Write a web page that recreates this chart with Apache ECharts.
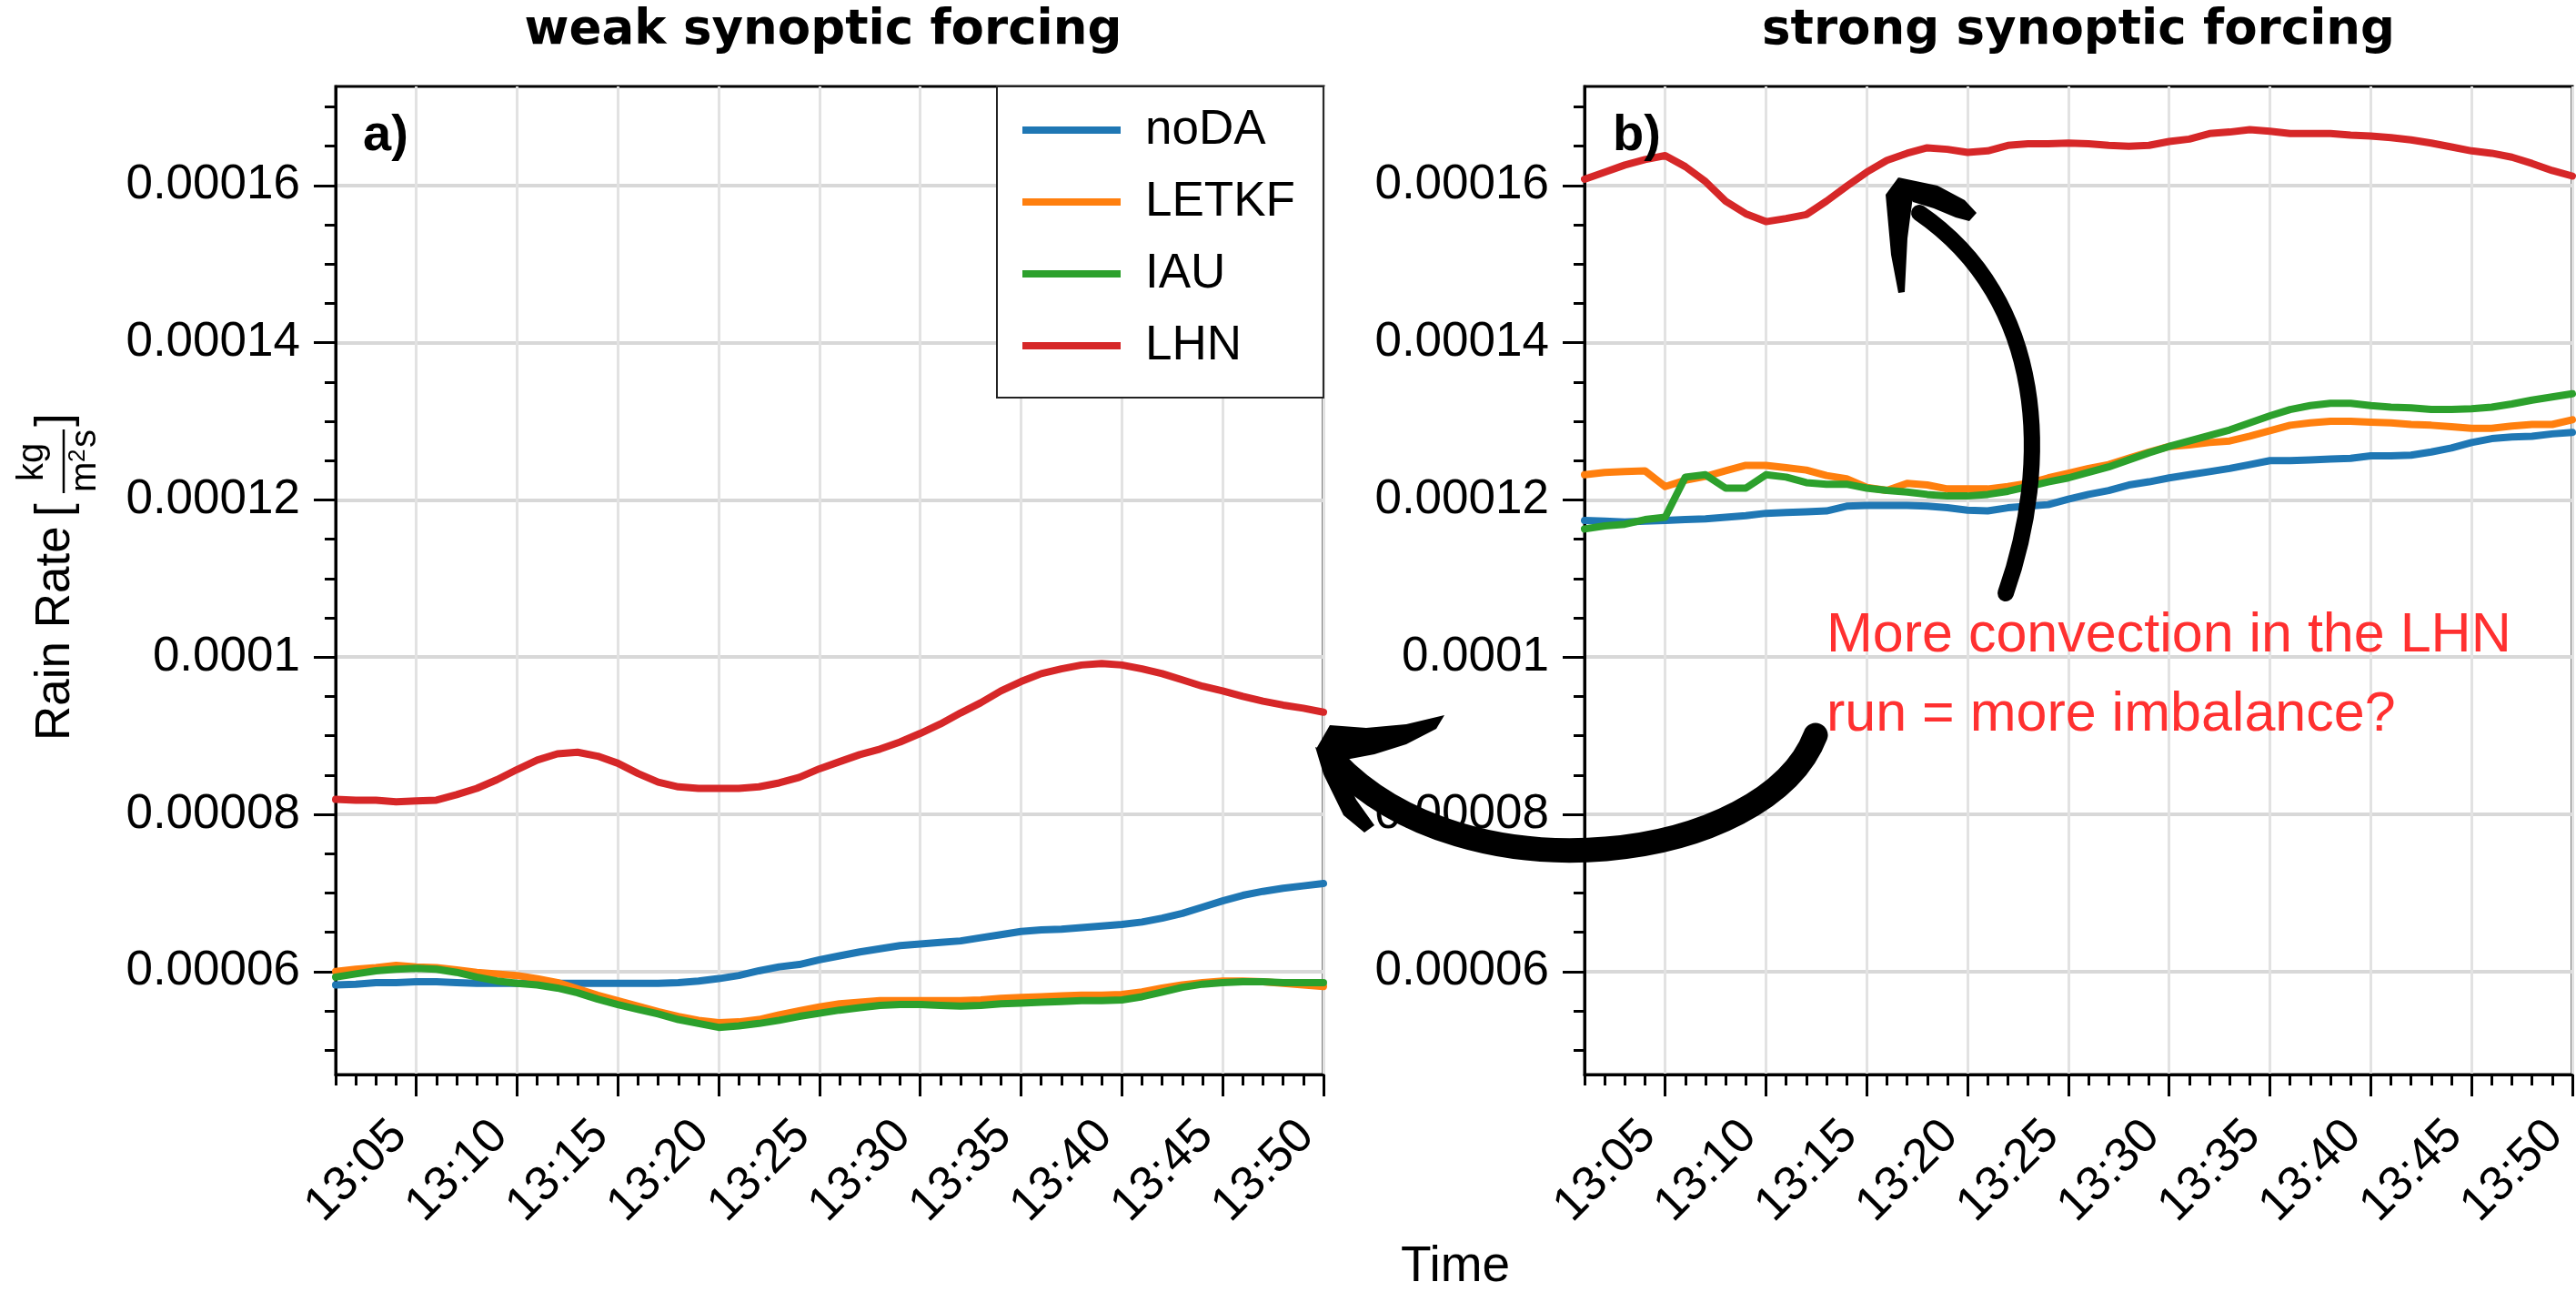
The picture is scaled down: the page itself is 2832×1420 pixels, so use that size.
<!DOCTYPE html>
<html>
<head>
<meta charset="utf-8">
<script src="https://cdn.jsdelivr.net/npm/echarts@6/dist/echarts.min.js"></script>
<style>
  html, body { margin: 0; padding: 0; background: #ffffff; }
  #chart { width: 2832px; height: 1420px; }
</style>
</head>
<body>
<div id="chart"></div>
<script>
// Time axis (one sample per minute)
const times = [
  '13:01','13:02','13:03','13:04','13:05','13:06','13:07','13:08','13:09','13:10',
  '13:11','13:12','13:13','13:14','13:15','13:16','13:17','13:18','13:19','13:20',
  '13:21','13:22','13:23','13:24','13:25','13:26','13:27','13:28','13:29','13:30',
  '13:31','13:32','13:33','13:34','13:35','13:36','13:37','13:38','13:39','13:40',
  '13:41','13:42','13:43','13:44','13:45','13:46','13:47','13:48','13:49','13:50'
];

// Rain rate axis
const yMin = 4.69e-5;
const yMax = 1.726e-4;
const yMajor = [6e-5, 8e-5, 1e-4, 1.2e-4, 1.4e-4, 1.6e-4];
const yMinor = [5e-5, 5.5e-5, 6.5e-5, 7e-5, 7.5e-5, 8.5e-5, 9e-5, 9.5e-5, 1.05e-4, 1.1e-4,
                1.15e-4, 1.25e-4, 1.3e-4, 1.35e-4, 1.45e-4, 1.5e-4, 1.55e-4, 1.65e-4, 1.7e-4];

const seriesNames = ['noDA', 'LETKF', 'IAU', 'LHN'];
const seriesColors = ['#1f77b4', '#ff7f0e', '#2ca02c', '#d62728'];

// a) weak synoptic forcing
const weakNoDA = [
  5.83e-5, 5.84e-5, 5.86e-5, 5.86e-5, 5.87e-5, 5.87e-5, 5.86e-5, 5.85e-5, 5.85e-5, 5.85e-5,
  5.85e-5, 5.85e-5, 5.85e-5, 5.85e-5, 5.85e-5, 5.85e-5, 5.85e-5, 5.86e-5, 5.88e-5, 5.91e-5,
  5.95e-5, 6.01e-5, 6.06e-5, 6.09e-5, 6.15e-5, 6.20e-5, 6.25e-5, 6.29e-5, 6.33e-5, 6.35e-5,
  6.37e-5, 6.39e-5, 6.43e-5, 6.47e-5, 6.51e-5, 6.53e-5, 6.54e-5, 6.56e-5, 6.58e-5, 6.60e-5,
  6.63e-5, 6.68e-5, 6.74e-5, 6.82e-5, 6.90e-5, 6.97e-5, 7.02e-5, 7.06e-5, 7.09e-5, 7.12e-5
];
const weakLETKF = [
  6.00e-5, 6.03e-5, 6.05e-5, 6.08e-5, 6.06e-5, 6.05e-5, 6.02e-5, 5.99e-5, 5.97e-5, 5.95e-5,
  5.91e-5, 5.86e-5, 5.78e-5, 5.70e-5, 5.63e-5, 5.56e-5, 5.49e-5, 5.43e-5, 5.38e-5, 5.35e-5,
  5.36e-5, 5.39e-5, 5.45e-5, 5.50e-5, 5.55e-5, 5.59e-5, 5.61e-5, 5.63e-5, 5.63e-5, 5.63e-5,
  5.63e-5, 5.63e-5, 5.64e-5, 5.66e-5, 5.67e-5, 5.68e-5, 5.69e-5, 5.70e-5, 5.70e-5, 5.71e-5,
  5.74e-5, 5.79e-5, 5.83e-5, 5.86e-5, 5.88e-5, 5.88e-5, 5.87e-5, 5.85e-5, 5.83e-5, 5.81e-5
];
const weakIAU = [
  5.93e-5, 5.97e-5, 6.01e-5, 6.03e-5, 6.04e-5, 6.03e-5, 5.99e-5, 5.93e-5, 5.88e-5, 5.85e-5,
  5.83e-5, 5.79e-5, 5.73e-5, 5.65e-5, 5.58e-5, 5.52e-5, 5.46e-5, 5.39e-5, 5.34e-5, 5.29e-5,
  5.31e-5, 5.34e-5, 5.38e-5, 5.43e-5, 5.47e-5, 5.51e-5, 5.54e-5, 5.57e-5, 5.58e-5, 5.58e-5,
  5.57e-5, 5.56e-5, 5.57e-5, 5.59e-5, 5.60e-5, 5.61e-5, 5.62e-5, 5.63e-5, 5.63e-5, 5.64e-5,
  5.68e-5, 5.74e-5, 5.80e-5, 5.84e-5, 5.86e-5, 5.87e-5, 5.87e-5, 5.86e-5, 5.86e-5, 5.86e-5
];
const weakLHN = [
  8.19e-5, 8.18e-5, 8.18e-5, 8.16e-5, 8.17e-5, 8.18e-5, 8.25e-5, 8.33e-5, 8.44e-5, 8.57e-5,
  8.69e-5, 8.77e-5, 8.79e-5, 8.74e-5, 8.65e-5, 8.52e-5, 8.41e-5, 8.35e-5, 8.33e-5, 8.33e-5,
  8.33e-5, 8.35e-5, 8.40e-5, 8.47e-5, 8.58e-5, 8.67e-5, 8.76e-5, 8.83e-5, 8.92e-5, 9.03e-5,
  9.15e-5, 9.29e-5, 9.42e-5, 9.57e-5, 9.69e-5, 9.79e-5, 9.85e-5, 9.90e-5, 9.92e-5, 9.90e-5,
  9.85e-5, 9.79e-5, 9.71e-5, 9.63e-5, 9.57e-5, 9.50e-5, 9.44e-5, 9.39e-5, 9.35e-5, 9.30e-5
];

// b) strong synoptic forcing
const strongNoDA = [
  1.174e-4, 1.173e-4, 1.172e-4, 1.173e-4, 1.174e-4, 1.175e-4, 1.176e-4, 1.178e-4, 1.180e-4, 1.183e-4,
  1.184e-4, 1.185e-4, 1.186e-4, 1.192e-4, 1.193e-4, 1.193e-4, 1.193e-4, 1.192e-4, 1.190e-4, 1.187e-4,
  1.186e-4, 1.190e-4, 1.192e-4, 1.194e-4, 1.201e-4, 1.207e-4, 1.212e-4, 1.219e-4, 1.223e-4, 1.228e-4,
  1.232e-4, 1.236e-4, 1.240e-4, 1.245e-4, 1.250e-4, 1.250e-4, 1.251e-4, 1.252e-4, 1.253e-4, 1.256e-4,
  1.256e-4, 1.257e-4, 1.261e-4, 1.266e-4, 1.273e-4, 1.278e-4, 1.280e-4, 1.281e-4, 1.284e-4, 1.286e-4
];
const strongLETKF = [
  1.232e-4, 1.235e-4, 1.236e-4, 1.237e-4, 1.217e-4, 1.225e-4, 1.230e-4, 1.237e-4, 1.244e-4, 1.244e-4,
  1.241e-4, 1.238e-4, 1.231e-4, 1.227e-4, 1.216e-4, 1.212e-4, 1.221e-4, 1.219e-4, 1.214e-4, 1.214e-4,
  1.214e-4, 1.217e-4, 1.221e-4, 1.228e-4, 1.234e-4, 1.240e-4, 1.245e-4, 1.253e-4, 1.261e-4, 1.268e-4,
  1.270e-4, 1.273e-4, 1.275e-4, 1.281e-4, 1.288e-4, 1.295e-4, 1.298e-4, 1.300e-4, 1.300e-4, 1.299e-4,
  1.298e-4, 1.296e-4, 1.295e-4, 1.293e-4, 1.291e-4, 1.291e-4, 1.294e-4, 1.296e-4, 1.296e-4, 1.302e-4
];
const strongIAU = [
  1.163e-4, 1.167e-4, 1.169e-4, 1.175e-4, 1.178e-4, 1.229e-4, 1.232e-4, 1.215e-4, 1.215e-4, 1.232e-4,
  1.229e-4, 1.222e-4, 1.220e-4, 1.220e-4, 1.215e-4, 1.212e-4, 1.210e-4, 1.207e-4, 1.205e-4, 1.205e-4,
  1.207e-4, 1.211e-4, 1.217e-4, 1.223e-4, 1.228e-4, 1.235e-4, 1.242e-4, 1.251e-4, 1.260e-4, 1.268e-4,
  1.275e-4, 1.282e-4, 1.289e-4, 1.298e-4, 1.307e-4, 1.315e-4, 1.320e-4, 1.323e-4, 1.323e-4, 1.320e-4,
  1.318e-4, 1.317e-4, 1.315e-4, 1.315e-4, 1.316e-4, 1.318e-4, 1.322e-4, 1.327e-4, 1.331e-4, 1.335e-4
];
const strongLHN = [
  1.608e-4, 1.617e-4, 1.626e-4, 1.633e-4, 1.638e-4, 1.624e-4, 1.605e-4, 1.580e-4, 1.564e-4, 1.554e-4,
  1.558e-4, 1.563e-4, 1.580e-4, 1.599e-4, 1.617e-4, 1.632e-4, 1.641e-4, 1.648e-4, 1.646e-4, 1.642e-4,
  1.644e-4, 1.651e-4, 1.653e-4, 1.653e-4, 1.654e-4, 1.653e-4, 1.651e-4, 1.650e-4, 1.651e-4, 1.656e-4,
  1.659e-4, 1.666e-4, 1.668e-4, 1.671e-4, 1.669e-4, 1.666e-4, 1.666e-4, 1.666e-4, 1.664e-4, 1.663e-4,
  1.661e-4, 1.658e-4, 1.654e-4, 1.649e-4, 1.644e-4, 1.641e-4, 1.636e-4, 1.628e-4, 1.619e-4, 1.612e-4
];

const weakData = [weakNoDA, weakLETKF, weakIAU, weakLHN];
const strongData = [strongNoDA, strongLETKF, strongIAU, strongLHN];

const FONT = "'Liberation Sans', Arial, sans-serif";
const TITLE_FONT = "'DejaVu Sans', sans-serif";
const isMajorMinute = (i) => (i + 1) % 5 === 0;
const fmtRate = (v) => String(parseFloat(Number(v).toPrecision(4)));

function gridBox(left) {
  return { left: left, top: 95, width: 1086, height: 1086, show: true,
           borderColor: '#000', borderWidth: 3, backgroundColor: 'transparent', containLabel: false };
}

function xMajorAxis(gi) {
  return {
    type: 'category', gridIndex: gi, data: times, boundaryGap: false, position: 'bottom',
    axisLine: { show: true, lineStyle: { color: '#000', width: 3 } },
    axisTick: { show: true, interval: isMajorMinute, length: 24, lineStyle: { color: '#000', width: 3 } },
    axisLabel: { show: true, interval: isMajorMinute, rotate: 45, margin: 78,
                 align: 'right', verticalAlign: 'bottom',
                 fontSize: 53, fontFamily: FONT, color: '#000' },
    splitLine: { show: true, interval: isMajorMinute, lineStyle: { color: '#e2e2e2', width: 3 } }
  };
}
function xMinorAxis(gi) {
  return {
    type: 'category', gridIndex: gi, data: times, boundaryGap: false, position: 'bottom',
    axisLine: { show: false },
    axisTick: { show: true, interval: 0, length: 12, lineStyle: { color: '#000', width: 3 } },
    axisLabel: { show: false },
    splitLine: { show: false }
  };
}
function yMajorAxis(gi) {
  return {
    type: 'value', gridIndex: gi, min: yMin, max: yMax, splitNumber: 6, position: 'left',
    axisLine: { show: true, lineStyle: { color: '#000', width: 3 } },
    axisTick: { show: true, customValues: yMajor, length: 24, lineStyle: { color: '#000', width: 3 } },
    axisLabel: { show: true, customValues: yMajor, margin: 39, fontSize: 53, fontFamily: FONT,
                 color: '#000', formatter: fmtRate },
    splitLine: { show: true, lineStyle: { color: '#d8d8d8', width: 4 } }
  };
}
function yMinorAxis(gi) {
  return {
    type: 'value', gridIndex: gi, min: yMin, max: yMax, position: 'left',
    axisLine: { show: false },
    axisTick: { show: true, customValues: yMinor, length: 12, lineStyle: { color: '#000', width: 3 } },
    axisLabel: { show: false },
    splitLine: { show: false }
  };
}

function panelSeries(dataSet, axisIndex) {
  return dataSet.map((values, k) => ({
    name: seriesNames[k], type: 'line', xAxisIndex: axisIndex, yAxisIndex: axisIndex,
    data: values, symbol: 'none', smooth: false, clip: true, z: 2 + k,
    color: seriesColors[k],
    lineStyle: { color: seriesColors[k], width: 8, join: 'round', cap: 'round' }
  }));
}

function label(text, x, y, opts) {
  return Object.assign({
    type: 'text', x: x, y: y, z: 50,
    style: Object.assign({ text: text, fill: '#000', fontFamily: FONT, fontSize: 53,
                           align: 'left', verticalAlign: 'middle',
                           textAlign: 'left', textVerticalAlign: 'middle' }, opts || {})
  });
}

function part(text, x, y, size, align) {
  return { type: 'text', x: x, y: y,
           style: { text: text, fontFamily: FONT, fontSize: size, fill: '#000',
                    align: align || 'left', verticalAlign: 'middle' } };
}

// Unit label: Rain Rate [kg / m^2 s], written bottom-to-top
const yLabelGroup = {
  type: 'group', x: 61, y: 814, rotation: Math.PI / 2, z: 50,
  children: [
    part('Rain Rate', 0, 0, 53),
    part('[', 246, 0, 53),
    part('kg', 306, -25, 40, 'center'),
    { type: 'line', shape: { x1: 272, y1: 9, x2: 342, y2: 9 }, style: { stroke: '#000', lineWidth: 2.5 } },
    part('m', 273, 33, 40),
    part('2', 306, 25, 26),
    part('s', 322, 33, 40),
    part(']', 345, 0, 53)
  ]
};

// Hand-drawn style arrows
const ink = { fill: '#000' };
const arrows = [
  // arrow towards the LHN curve in b)
  { type: 'bezierCurve', z: 60,
    shape: { x1: 2205, y1: 652, cpx1: 2255, cpy1: 510, cpx2: 2250, cpy2: 330, x2: 2110, y2: 234 },
    style: { stroke: '#000', lineWidth: 18, lineCap: 'round', fill: 'none' } },
  { type: 'polygon', z: 60, shape: { points: [[2087, 195], [2073, 214], [2079, 280], [2087, 322], [2094, 321], [2097, 262], [2103, 216]] }, style: ink },
  { type: 'polygon', z: 60, shape: { points: [[2087, 195], [2130, 204], [2160, 220], [2173, 234], [2165, 243], [2150, 239], [2126, 229], [2103, 222]] }, style: ink },
  // arrow from b) back to the LHN curve in a)
  { type: 'bezierCurve', z: 60,
    shape: { x1: 1996, y1: 808, cpx1: 1942, cpy1: 948, cpx2: 1612, cpy2: 992, x2: 1466, y2: 836 },
    style: { stroke: '#000', lineWidth: 27, lineCap: 'round', fill: 'none' } },
  { type: 'polygon', z: 60, shape: { points: [[1447, 823], [1462, 797], [1502, 800], [1546, 796], [1588, 786], [1579, 801], [1546, 818], [1511, 829], [1474, 836]] }, style: ink },
  { type: 'polygon', z: 60, shape: { points: [[1446, 821], [1468, 830], [1491, 879], [1511, 907], [1500, 915], [1477, 896], [1455, 851]] }, style: ink }
];

const graphics = [
  label('weak synoptic forcing', 905, 34, { fontFamily: TITLE_FONT, fontWeight: 'bold', align: 'center', textAlign: 'center' }),
  label('strong synoptic forcing', 2285, 34, { fontFamily: TITLE_FONT, fontWeight: 'bold', align: 'center', textAlign: 'center' }),
  label('a)', 399, 150, { fontWeight: 'bold', fontSize: 56 }),
  label('b)', 1773, 150, { fontWeight: 'bold', fontSize: 56 }),
  label('Time', 1600, 1393, { fontSize: 55, align: 'center', textAlign: 'center' }),
  label('More convection in the LHN', 2008, 699, { fontSize: 61, fill: '#ff3030' }),
  label('run = more imbalance?', 2008, 786, { fontSize: 61, fill: '#ff3030' }),
  yLabelGroup
].concat(arrows);

const option = {
  animation: false,
  backgroundColor: '#ffffff',
  grid: [gridBox(369), gridBox(1742)],
  xAxis: [xMajorAxis(0), xMinorAxis(0), xMajorAxis(1), xMinorAxis(1)],
  yAxis: [yMajorAxis(0), yMinorAxis(0), yMajorAxis(1), yMinorAxis(1)],
  legend: {
    show: true, data: seriesNames, orient: 'vertical', left: 1096, top: 95,
    icon: 'rect', itemWidth: 108, itemHeight: 8, itemGap: 19,
    padding: [18, 31, 27, 28],
    backgroundColor: '#ffffff', borderColor: '#222', borderWidth: 2, borderRadius: 0,
    textStyle: { fontSize: 53, fontFamily: FONT, color: '#000', lineHeight: 60, padding: [0, 0, 0, 22] },
    z: 20
  },
  series: panelSeries(weakData, 0).concat(panelSeries(strongData, 2)),
  graphic: graphics
};

const chart = echarts.init(document.getElementById('chart'), null, { renderer: 'canvas' });
chart.setOption(option);
</script>
</body>
</html>
